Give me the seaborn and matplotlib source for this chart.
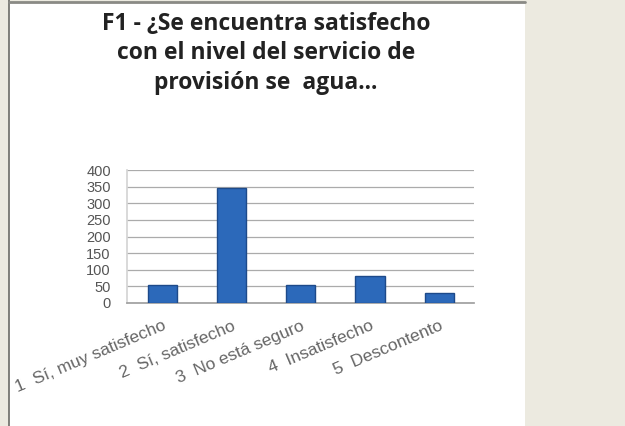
import matplotlib
matplotlib.use("Agg")
import matplotlib.pyplot as plt
import seaborn as sns
import pandas as pd
from matplotlib.patches import Rectangle

categories = ["1  Sí, muy satisfecho", "2  Sí, satisfecho", "3  No está seguro",
              "4  Insatisfecho", "5  Descontento"]
values = [54, 347, 54, 81, 31]
yticks = [0, 50, 100, 150, 200, 250, 300, 350, 400]
title = "F1 - ¿Se encuentra satisfecho\ncon el nivel del servicio de\nprovisión se  agua..."

df = pd.DataFrame({"cat": categories, "val": values})

sns.set_theme(style="white")
plt.rcParams["font.family"] = ["Liberation Sans", "DejaVu Sans"]

W, H = 625, 426
fig = plt.figure(figsize=(W / 100, H / 100), dpi=100)
fig.patch.set_facecolor("#ECEAE0")

# background white panel as its own axes
bg = fig.add_axes([0, 0, 1, 1], zorder=-5)
bg.set_xlim(0, W)
bg.set_ylim(H, 0)
bg.axis("off")
bg.add_patch(Rectangle((9, 3), 516, H, facecolor="white", edgecolor="none"))
bg.plot([9, 9], [0, H], color="#6B6B66", lw=1.2)
bg.plot([9, 525], [1.5, 1.5], color="#8A8A85", lw=2)

ax = fig.add_axes([127.5 / W, 1 - 303 / H, (474 - 127.5) / W, (303 - 170) / H], zorder=2)
ax.set_facecolor("white")
sns.barplot(data=df, x="cat", y="val", ax=ax, color="#2C69BA", saturation=1, width=0.42,
            edgecolor="#1D4A8A", linewidth=1.0, zorder=3)
ax.set_ylim(0, 400)
ax.set_xlim(-0.5, 4.5)
ax.set_yticks(yticks)
ax.set_yticklabels([str(v) for v in yticks], fontsize=10.5, color="#555555")
ax.yaxis.grid(True, color="#ABABAB", linewidth=0.9, zorder=0)
ax.set_axisbelow(True)
for s in ["top", "right"]:
    ax.spines[s].set_visible(False)
ax.spines["left"].set_color("#D5D5D5")
ax.spines["bottom"].set_color("#A0A0A0")
ax.tick_params(axis="y", length=0, pad=12)
ax.tick_params(axis="x", length=0, pad=11)
ax.set_xticks(range(len(categories)))
ax.set_xticklabels(categories, rotation=23, ha="right", rotation_mode="anchor",
                   fontsize=12.5, color="#666666")
ax.set_xlabel("")
ax.set_ylabel("")

fig.text(266 / W, 1 - 12 / H, title, ha="center", va="top", fontsize=16.5,
         fontweight="bold", color="#222222", linespacing=1.3,
         family=["Open Sans", "DejaVu Sans"])

fig.savefig("out.png", dpi=100, facecolor=fig.get_facecolor())
